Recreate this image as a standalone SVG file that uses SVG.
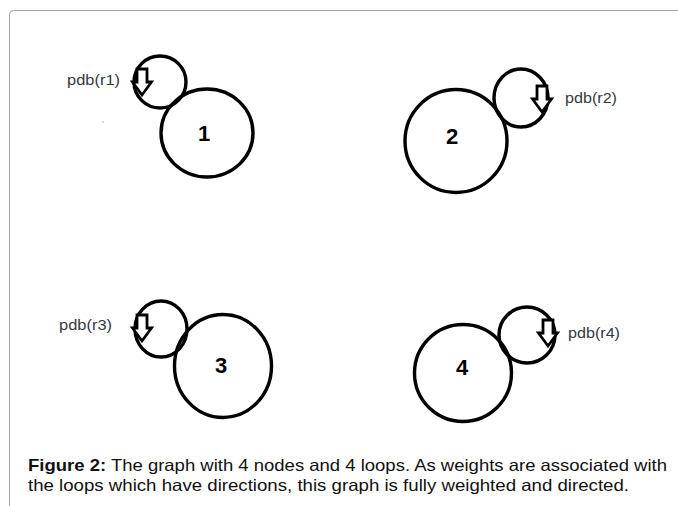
<svg xmlns="http://www.w3.org/2000/svg" width="678" height="506" viewBox="0 0 678 506">
<style>
.node{fill:none;stroke:#000;stroke-width:3.4}
.loop{fill:none;stroke:#000;stroke-width:3.4}
.arrow{fill:#fff;stroke:#000;stroke-width:2.8;stroke-linejoin:miter}
.num{font-family:"Liberation Sans",Arial,sans-serif;font-weight:bold;font-size:22px;fill:#000;text-anchor:middle}
.lbl{font-family:"Liberation Sans",Arial,sans-serif;font-size:14.5px;fill:#353a40}
.cap{font-family:"Liberation Sans",Arial,sans-serif;font-size:16.5px;fill:#111}
</style>
<defs>
<path id="darrow" d="M-5,0 H5 V13 H9.5 L0,26 L-9.5,13 H-5 Z"/>
</defs>
<rect width="678" height="506" fill="#fff"/>
<path d="M9.5,506 V14.5 Q9.5,10.5 13.5,10.5 H678" fill="none" stroke="#a0a0a0" stroke-width="1"/>
<circle cx="103" cy="122" r="0.8" fill="#aaa"/>

<g id="connectors">
<g id="loop1"><ellipse class="loop" cx="160" cy="82" rx="26" ry="26"/><use href="#darrow" class="arrow" x="142" y="69"/></g>
<g id="loop2"><ellipse class="loop" cx="521" cy="98" rx="27" ry="29"/><use href="#darrow" class="arrow" x="542" y="86"/></g>
<g id="loop3"><ellipse class="loop" cx="161" cy="329" rx="26" ry="28"/><use href="#darrow" class="arrow" x="142" y="315"/></g>
<g id="loop4"><ellipse class="loop" cx="527" cy="335" rx="28" ry="28"/><use href="#darrow" class="arrow" x="548" y="320"/></g>
</g>

<g id="node1"><ellipse class="node" cx="207" cy="133" rx="46" ry="44"/><text class="num" x="204" y="141">1</text></g>
<g id="node2"><ellipse class="node" cx="456" cy="141" rx="51" ry="51.5"/><text class="num" x="452" y="144">2</text></g>
<g id="node3"><ellipse class="node" cx="223" cy="366" rx="48.5" ry="51.5"/><text class="num" x="221" y="373">3</text></g>
<g id="node4"><ellipse class="node" cx="463" cy="373" rx="48.5" ry="48.5"/><text class="num" x="462" y="375">4</text></g>

<g id="labels">
<text class="lbl" x="67" y="85" textLength="53" lengthAdjust="spacingAndGlyphs">pdb(r1)</text>
<text class="lbl" x="565" y="103" textLength="52" lengthAdjust="spacingAndGlyphs">pdb(r2)</text>
<text class="lbl" x="59" y="330" textLength="53" lengthAdjust="spacingAndGlyphs">pdb(r3)</text>
<text class="lbl" x="568" y="338" textLength="52" lengthAdjust="spacingAndGlyphs">pdb(r4)</text>
</g>

<g id="caption">
<text class="cap" x="28" y="471" textLength="639" lengthAdjust="spacingAndGlyphs"><tspan font-weight="bold">Figure 2:</tspan> The graph with 4 nodes and 4 loops. As weights are associated with</text>
<text class="cap" x="28" y="491" textLength="601" lengthAdjust="spacingAndGlyphs">the loops which have directions, this graph is fully weighted and directed.</text>
</g>
</svg>
